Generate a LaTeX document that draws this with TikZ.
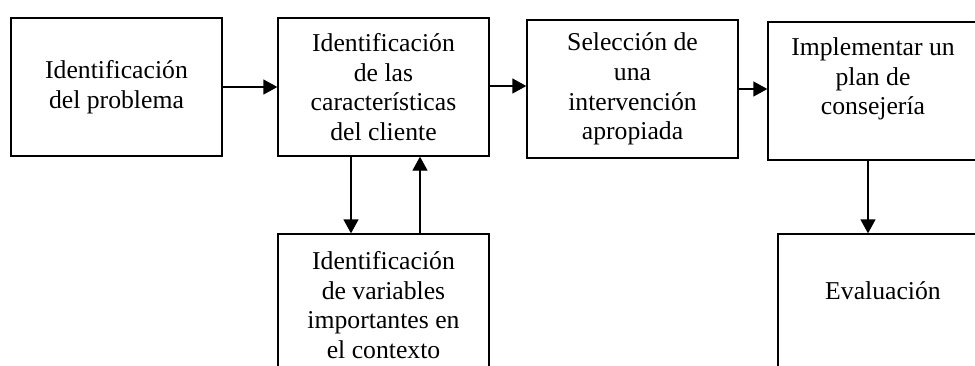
\documentclass[tikz,border=0pt]{standalone}
\usepackage{fontspec}
\setmainfont{Liberation Serif}
\usetikzlibrary{arrows.meta}
\begin{document}
\begin{tikzpicture}[x=1pt,y=-1pt,
  box/.style={draw=black, line width=1.3pt, fill=white, align=center, inner sep=0pt,
    font=\fontsize{25.7}{29.6}\selectfont},
  conn/.style={line width=1.3pt, -{Triangle[length=14pt,width=15pt]}}]
\path[use as bounding box, clip] (0,0) rectangle (975,365);
\fill[white] (0,0) rectangle (975,365);
\node[box, minimum width=211pt, minimum height=138pt] (b1) at (116.5,87)
  {\rule{0pt}{5pt}Identificación\\del problema};
\node[box, minimum width=211pt, minimum height=138pt] (b2) at (383.5,87)
  {Identificación\\de las\\características\\del cliente};
\node[box, minimum width=211pt, minimum height=138pt] (b3) at (632.5,89)
  {Selección de\\una\\intervención\\apropiada};
\node[box, minimum width=210pt, minimum height=138pt] (b4) at (873,91)
  {Implementar un\\plan de\\consejería\\\mbox{}};
\node[box, minimum width=211pt, minimum height=142pt] (b5) at (383.5,305)
  {Identificación\\de variables\\importantes en\\el contexto};
\node[box, minimum width=210pt, minimum height=142pt] (b6) at (883,305)
  {Evaluación\\\mbox{}};
\draw[conn] (b1.east) -- (b1.east -| b2.west);
\draw[conn] ([yshift=1pt]b2.east) -- ([yshift=1pt]b2.east -| b3.west);
\draw[conn] (b3.east) -- (b3.east -| b4.west);
\draw[conn] ([xshift=-5pt]b4.south) -- ([xshift=-5pt]b4.south |- b6.north);
\draw[conn] ([xshift=-32.5pt]b2.south) -- ([xshift=-32.5pt]b2.south |- b5.north);
\draw[conn] ([xshift=36.5pt]b5.north) -- ([xshift=36.5pt]b5.north |- b2.south);
\end{tikzpicture}
\end{document}
